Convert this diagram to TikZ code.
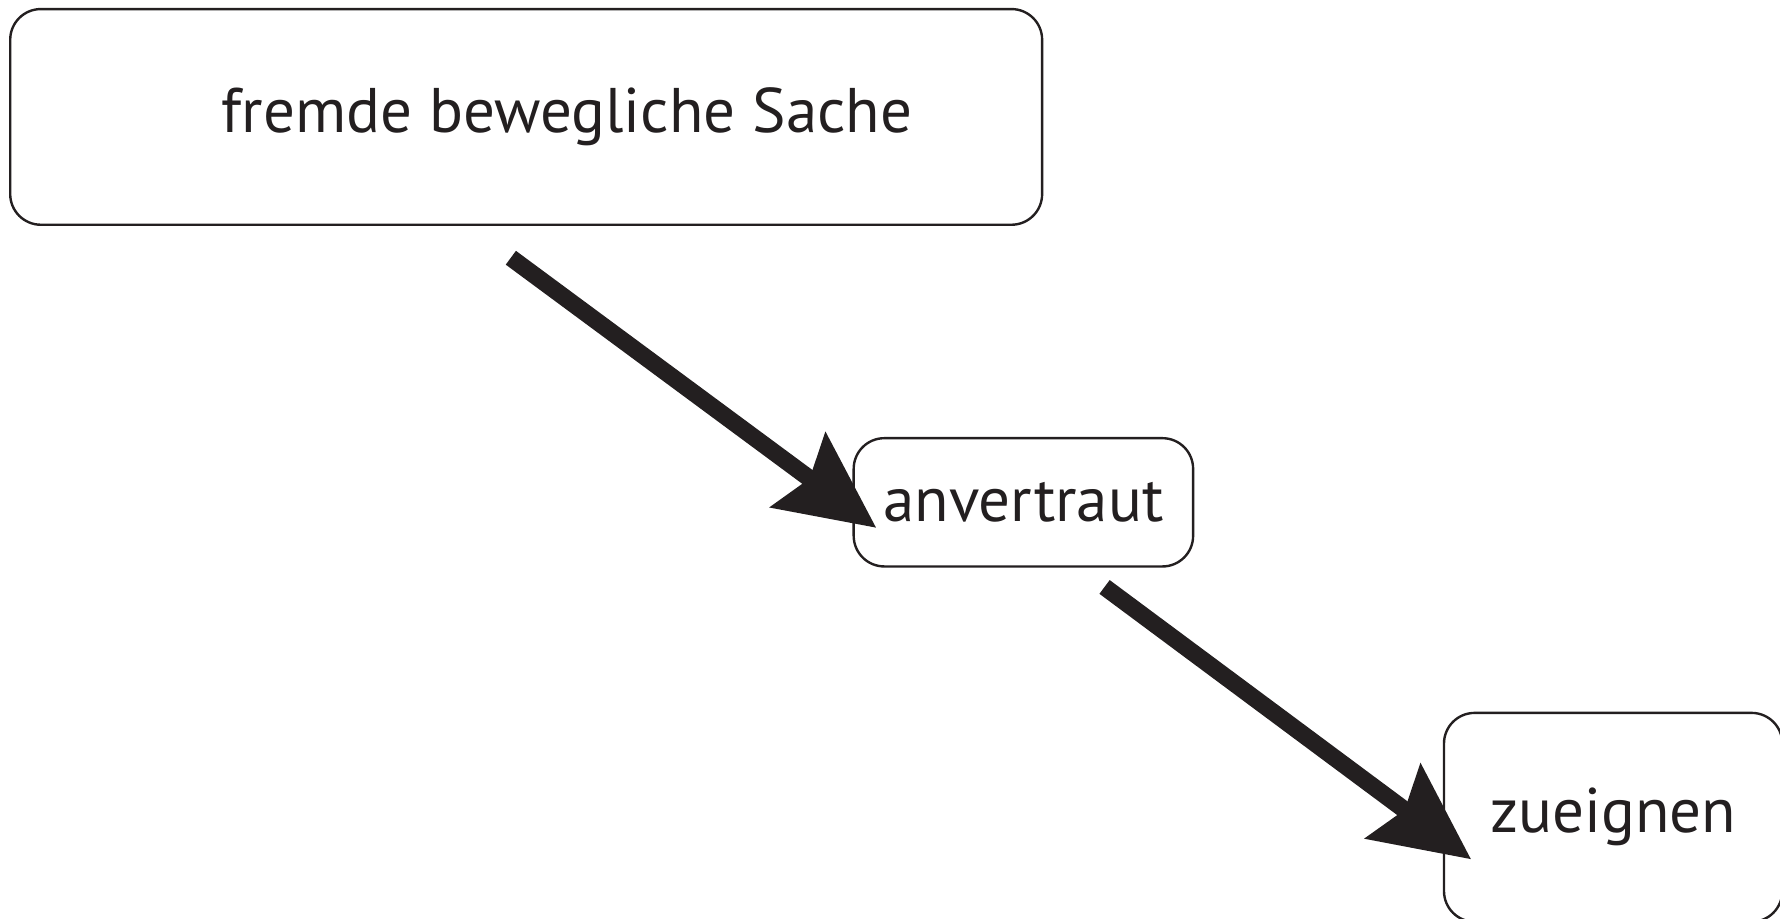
\documentclass[tikz,border=0pt]{standalone}
\usepackage{fontspec}
\setmainfont{PT Sans}
\usepackage{xcolor}
\usetikzlibrary{arrows.meta}
\definecolor{ink}{HTML}{231F20}
\begin{document}
\begin{tikzpicture}[box/.style={draw=ink, line width=0.6pt, rounded corners=0.27cm,
                                text=ink, font=\fontsize{15.8}{19}\selectfont},
                    link/.style={draw=ink, line width=4.3pt,
                                 -{Stealth[length=0.85cm,width=0.8cm,inset=0.12cm]}}]
    \clip (0,0) rectangle (15.68,8.09);
    \node[box, minimum width=9.09cm, minimum height=1.90cm] (sache) at (4.635,7.06) {\hspace*{0.72cm}fremde bewegliche Sache};
    \node[box, minimum width=2.99cm, minimum height=1.13cm] (anvertraut) at (9.015,3.665) {anvertraut};
    \node[box, minimum width=2.98cm, minimum height=1.84cm] (zueignen) at (14.21,0.89) {zueignen};
    \coordinate (from1) at ([shift={(-0.135,-0.28)}]sache.south);
    \coordinate (to1) at ([shift={(0.21,-0.225)}]anvertraut.west);
    \coordinate (from2) at ([shift={(0.715,-0.17)}]anvertraut.south);
    \coordinate (to2) at ([shift={(0.25,-0.37)}]zueignen.west);
    \draw[link] (from1) -- (to1);
    \draw[link] (from2) -- (to2);
\end{tikzpicture}
\end{document}
